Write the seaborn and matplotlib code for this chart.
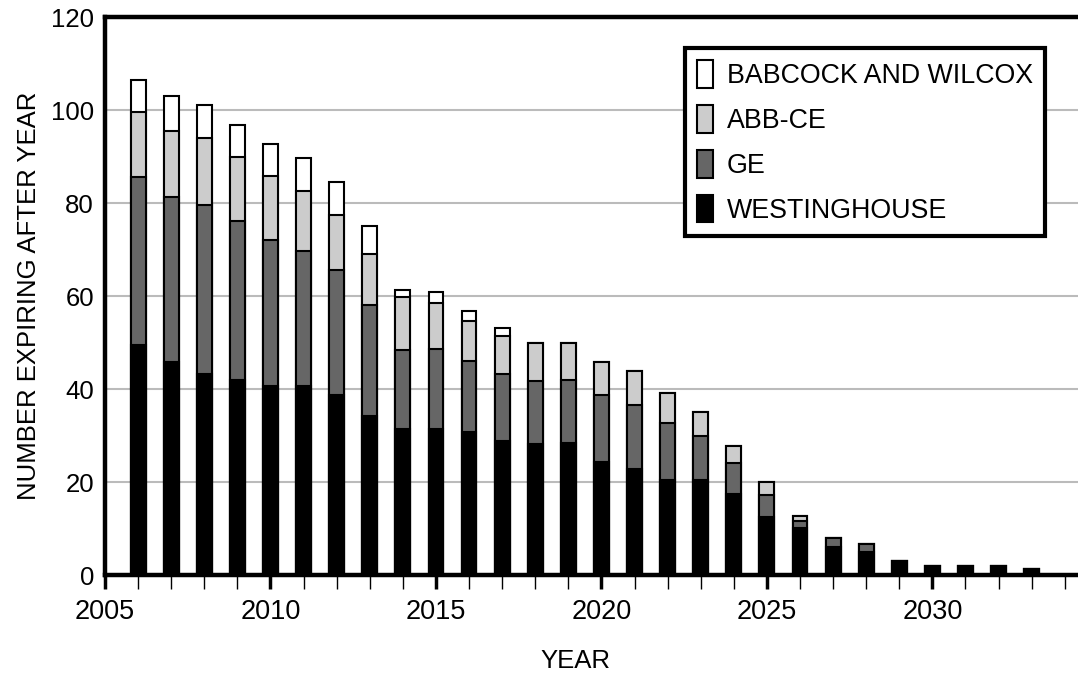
import numpy as np
import pandas as pd
import matplotlib
matplotlib.use("Agg")
import matplotlib.pyplot as plt
from matplotlib.ticker import MultipleLocator
import seaborn as sns

years = list(range(2006, 2034))
westinghouse = [49.5, 45.9, 43.3, 41.9, 40.6, 40.6, 38.7, 34.1, 31.4, 31.4, 30.8, 28.8, 28.1, 28.3,
                24.4, 22.9, 20.4, 20.4, 17.4, 12.4, 10.2, 6.1, 5.0, 3.0, 2.0, 2.0, 2.0, 1.4]
ge = [36.1, 35.5, 36.3, 34.3, 31.5, 29.1, 26.9, 23.9, 17.0, 17.2, 15.2, 14.4, 13.6, 13.6,
      14.3, 13.7, 12.3, 9.5, 6.6, 4.9, 1.4, 1.8, 1.6, 0, 0, 0, 0, 0]
abb_ce = [14.0, 14.1, 14.4, 13.7, 13.7, 13.0, 11.9, 11.0, 11.3, 9.8, 8.6, 8.3, 8.2, 8.1,
          7.1, 7.2, 6.5, 5.1, 3.7, 2.6, 1.1, 0, 0, 0, 0, 0, 0, 0]
babcock = [6.8, 7.5, 7.1, 6.9, 7.0, 7.0, 7.1, 6.0, 1.6, 2.5, 2.2, 1.7, 0, 0,
           0, 0, 0, 0, 0, 0, 0, 0, 0, 0, 0, 0, 0, 0]

series = ["WESTINGHOUSE", "GE", "ABB-CE", "BABCOCK AND WILCOX"]
colors = ["#000000", "#666666", "#cccccc", "#ffffff"]

df = pd.DataFrame({"year": years, "WESTINGHOUSE": westinghouse, "GE": ge,
                   "ABB-CE": abb_ce, "BABCOCK AND WILCOX": babcock})
# cumulative heights, drawn from the tallest down so each layer covers the previous
cum = df[series].cumsum(axis=1)

sns.set_style("white")
plt.rcParams["font.family"] = ["Liberation Sans", "DejaVu Sans"]
plt.rcParams["text.color"] = "black"
plt.rcParams["axes.labelcolor"] = "black"
plt.rcParams["xtick.color"] = "black"
plt.rcParams["ytick.color"] = "black"

fig = plt.figure(figsize=(10.78, 6.73), dpi=100)
ax = fig.add_axes([0.0974, 0.1456, 0.9026, 0.829])

for name, col in reversed(list(zip(series, colors))):
    sns.barplot(x=df["year"], y=cum[name], native_scale=True, color=col, width=0.45,
                edgecolor="black", linewidth=1.5, saturation=1, label=name, ax=ax, zorder=3)

ax.set_xlim(2005, 2034.4)
ax.set_ylim(0, 120)
ax.yaxis.set_major_locator(MultipleLocator(20))
ax.xaxis.set_major_locator(MultipleLocator(5))
ax.xaxis.set_minor_locator(MultipleLocator(1))
ax.grid(axis="y", color="#bbbbbb", linewidth=1.5, zorder=0)
ax.set_axisbelow(True)

for s in ["left", "top", "bottom"]:
    ax.spines[s].set_linewidth(3.2)
    ax.spines[s].set_color("black")
ax.spines["right"].set_visible(False)

ax.tick_params(axis="x", which="major", direction="out", length=10, width=2.5, pad=7,
               labelsize=19.5, bottom=True)
ax.tick_params(axis="x", which="minor", direction="out", length=10, width=1, bottom=True)
ax.tick_params(axis="y", which="major", length=0, pad=8, labelsize=18.5)

ax.set_xlabel("YEAR", fontsize=18.5)
ax.xaxis.set_label_coords(0.483, -0.132)
ax.set_ylabel("NUMBER EXPIRING AFTER YEAR", fontsize=18.5, labelpad=7)

handles, labels = ax.get_legend_handles_labels()
leg = ax.legend(handles, labels, loc="upper right", bbox_to_anchor=(0.966, 0.944),
                borderaxespad=0, fontsize=19.3, frameon=True, fancybox=False,
                framealpha=1, edgecolor="black", handlelength=0.6, handleheight=1.2,
                handletextpad=0.5, labelspacing=0.6, borderpad=0.45)
leg.get_frame().set_linewidth(3)

fig.savefig("out.png", dpi=100)
